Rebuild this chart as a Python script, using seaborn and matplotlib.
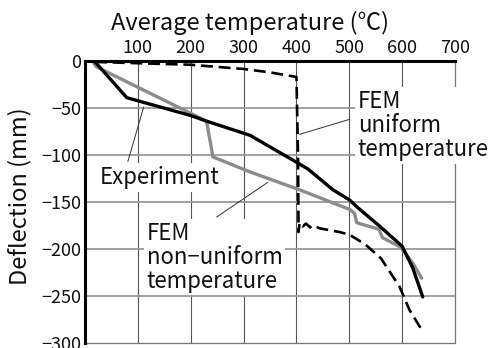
import numpy as np
import pandas as pd
import matplotlib
matplotlib.use("Agg")
import matplotlib.pyplot as plt
import seaborn as sns

# Measured deflection vs. average temperature
exp_temp = [19, 79, 200, 230, 312, 401, 422, 469, 501, 514, 558, 600, 620, 639]
exp_defl = [-1, -39, -58, -64, -79, -108, -115, -137, -148, -155, -176, -197, -220, -251]

# FEM, non-uniform temperature distribution
nonu_temp = [14, 21, 230, 242, 312, 406, 501, 510, 514, 556, 563, 597, 620, 637]
nonu_defl = [0, -6, -64, -102, -118, -137, -158, -162, -172, -179, -188, -198, -215, -231]

# FEM, uniform temperature distribution
uni_temp = [19, 200, 300, 349, 400, 403, 404, 406, 412, 418, 426, 432, 444, 482, 501,
            530, 560, 595, 614, 637]
uni_defl = [-1, -4, -8.5, -12, -17, -100, -182, -172, -176, -173, -177, -175, -178, -182,
            -185, -195, -210, -240, -265, -286]

x_ticks = [100, 200, 300, 400, 500, 600, 700]
y_ticks = [0, -50, -100, -150, -200, -250, -300]

sns.set_theme(style="white")
plt.rcParams["font.family"] = ["Noto Sans CJK JP", "DejaVu Sans"]
plt.rcParams["axes.unicode_minus"] = True

fig = plt.figure(figsize=(4.91, 3.48), dpi=100)
ax = fig.add_axes([85 / 491, 1 - 343 / 348, 370 / 491, 282 / 348])

exp_df = pd.DataFrame({"temp": exp_temp, "defl": exp_defl})
nonu_df = pd.DataFrame({"temp": nonu_temp, "defl": nonu_defl})
uni_df = pd.DataFrame({"temp": uni_temp, "defl": uni_defl})

sns.lineplot(data=nonu_df, x="temp", y="defl", sort=False, estimator=None,
             color="#8c8c8c", lw=2.4, ax=ax, zorder=4)
sns.lineplot(data=exp_df, x="temp", y="defl", sort=False, estimator=None,
             color="black", lw=2.4, ax=ax, zorder=5)
sns.lineplot(data=uni_df, x="temp", y="defl", sort=False, estimator=None,
             color="black", lw=1.9, ax=ax, zorder=5)
ax.lines[-1].set_dashes([4.5, 2.2])

ax.set_xlim(0, 700)
ax.set_ylim(-300, 0)
ax.set_xticks(x_ticks)
ax.set_yticks(y_ticks)
ax.xaxis.tick_top()
ax.tick_params(axis="both", length=0, labelsize=13, colors="#111111", pad=3)
ax.set_xlabel("")
ax.set_ylabel("")

# grid: darker thin verticals, lighter horizontals
for t in x_ticks[:-1]:
    ax.axvline(t, color="#555555", lw=0.8, zorder=1)
for t in y_ticks[1:-1]:
    ax.axhline(t, color="#9a9a9a", lw=1.3, zorder=1)

for side in ("right", "bottom"):
    ax.spines[side].set_color("#777777")
    ax.spines[side].set_linewidth(0.9)
for side in ("left", "top"):
    ax.spines[side].set_color("black")
    ax.spines[side].set_linewidth(2.2)
    ax.spines[side].set_zorder(6)

fig.text(250 / 491, 1 - 23 / 348, "Average temperature (℃)", ha="center", va="center",
         fontsize=17, color="#111111")
fig.text(20 / 491, 1 - 196 / 348, "Deflection (mm)", ha="center", va="center",
         rotation=90, fontsize=17, color="#111111")

box = dict(facecolor="white", edgecolor="none", pad=2)

# labels with leader lines
ax.plot([406, 501], [-78, -62], color="#333333", lw=0.7, zorder=3)
ax.text(516, -31, "FEM\nuniform\ntemperature", ha="left", va="top", fontsize=16,
        linespacing=1.05, bbox=box, zorder=3, clip_on=False, color="#111111")

ax.plot([111, 81], [-49, -107], color="#333333", lw=0.7, zorder=3)
ax.text(28, -124, "Experiment", ha="left", va="center", fontsize=16,
        bbox=box, zorder=3, color="#111111")

ax.plot([249, 346], [-166, -129], color="#333333", lw=0.7, zorder=3)
ax.text(117, -171, "FEM\nnon\u2212uniform\ntemperature", ha="left", va="top", fontsize=16,
        linespacing=1.05, bbox=box, zorder=3, color="#111111")

fig.savefig("out.png", dpi=100)
